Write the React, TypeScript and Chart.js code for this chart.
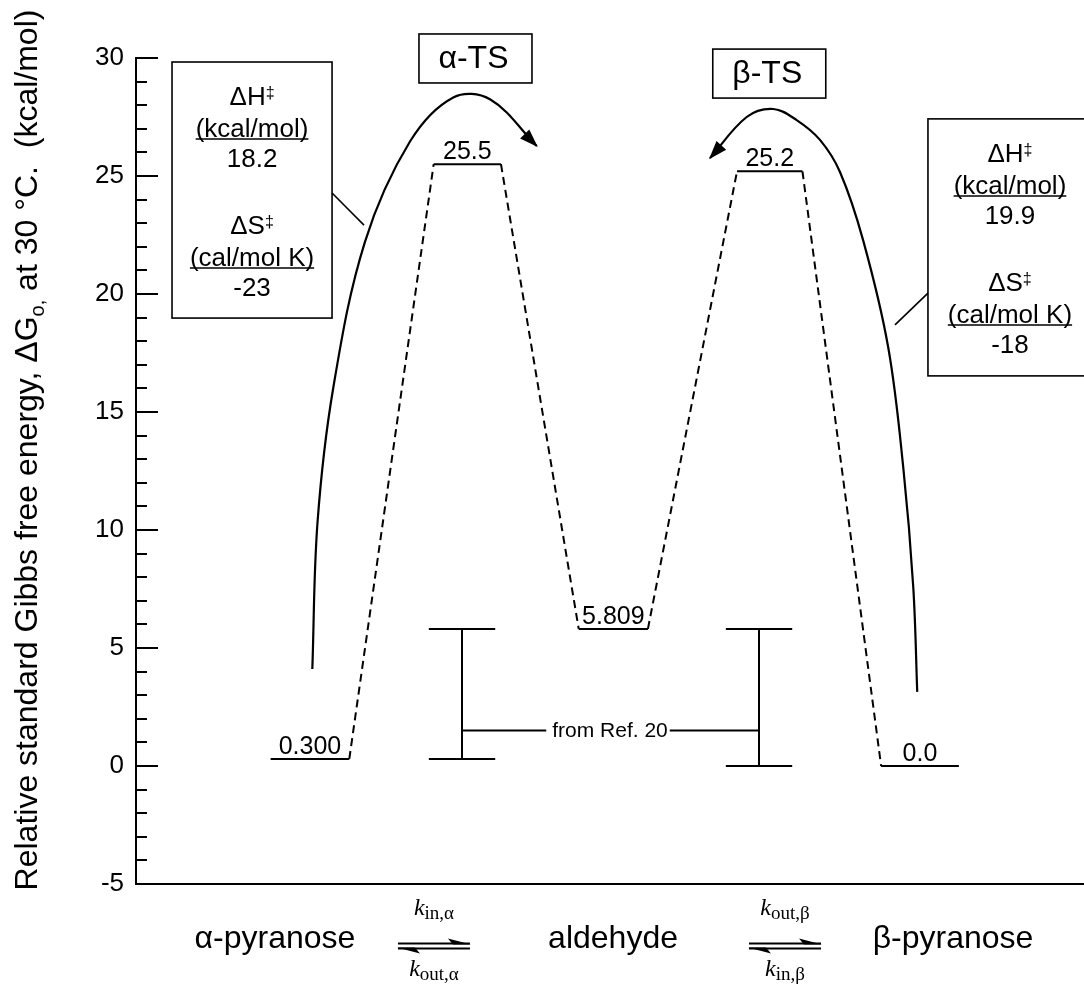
import React, { useEffect, useRef } from 'react';
import { Chart, registerables } from 'chart.js';

Chart.register(...registerables);

const FONT = '"Liberation Sans", Arial, Helvetica, sans-serif';
const SERIF = '"Liberation Serif", "Times New Roman", Times, serif';
const INK = '#000000';

// ---------------- data ----------------
// energy levels (kcal/mol) along an abstract reaction coordinate 0..100
const levelNames = ['α-pyranose', 'α-TS', 'aldehyde', 'β-TS', 'β-pyranose'];
const levelEnergies = [0.3, 25.5, 5.809, 25.2, 0.0];
const levelLabels = ['0.300', '25.5', '5.809', '25.2', '0.0'];
const levelStartX = [14.2, 31.4, 46.7, 63.4, 78.6];
const levelEndX = [22.5, 38.5, 54.0, 70.3, 86.8];

// curved arrows (start -> arrow tip)
const alphaArcX = [18.6, 19.15, 20.81, 24.16, 28.9, 33.47, 37.34, 42.27];
const alphaArcY = [4.11, 10.34, 16.03, 22.22, 26.46, 28.33, 28.25, 26.27];
const betaArcX = [82.41, 81.99, 80.94, 79.36, 76.72, 74.26, 72.15, 69.69, 67.22, 64.42, 60.55];
const betaArcY = [3.14, 7.58, 12.63, 17.71, 22.25, 25.17, 26.53, 27.37, 27.84, 27.5, 25.76];

// reference range bars ("from Ref. 20")
const refBarX = [34.39, 65.72];
const refBarLow = [0.3, 0.0];
const refBarHigh = [5.809, 5.809];
const refLinkY = 1.5;
const refLabel = 'from Ref. 20';
const refLabelX = 50.0;

// transition-state tags
const tsLabels = ['α-TS', 'β-TS'];
const tsLabelX = [35.81, 66.8];
const tsLabelY = [29.98, 29.34];

// activation parameter boxes
const enthalpyValues = ['18.2', '19.9'];
const entropyValues = ['-23', '-18'];
const infoBoxLeft = [3.8, 83.54];
const infoBoxRight = [20.68, 101.5];
const infoBoxTop = [29.83, 27.42];
const infoBoxBottom = [18.98, 16.53];
const infoTextX = [12.24, 92.19];
const leaderFromX = [20.68, 83.54];
const leaderFromY = [24.28, 20.04];
const leaderToX = [24.05, 80.06];
const leaderToY = [22.92, 18.69];

// reaction scheme under the axis
const schemeSpecies = ['α-pyranose', 'aldehyde', 'β-pyranose'];
const schemeSpeciesX = [14.66, 50.32, 86.18];
const schemeArrowX = [31.43, 68.46];
const schemeTopRate = ['in,α', 'out,β'];
const schemeBottomRate = ['out,α', 'in,β'];

const yTitleMain = 'Relative standard Gibbs free energy, ΔG';
const yTitleSub = 'o,';
const yTitleTail = ' at 30 °C.  (kcal/mol)';

// ---------------- helpers ----------------
type Run = { t: string; f: string; dy?: number };

function runsWidth(ctx: CanvasRenderingContext2D, runs: Run[]) {
  let w = 0;
  runs.forEach((r) => {
    ctx.font = r.f;
    w += ctx.measureText(r.t).width;
  });
  return w;
}

function drawRuns(ctx: CanvasRenderingContext2D, runs: Run[], cx: number, y: number) {
  const total = runsWidth(ctx, runs);
  let x = cx - total / 2;
  ctx.textAlign = 'left';
  runs.forEach((r) => {
    ctx.font = r.f;
    ctx.fillText(r.t, x, y + (r.dy || 0));
    x += ctx.measureText(r.t).width;
  });
  return total;
}

const CAP_HALF = 3.5;

function buildDatasets() {
  const ds: any[] = [];
  const base = {
    borderColor: INK,
    backgroundColor: INK,
    borderWidth: 2,
    pointRadius: 0,
    pointHoverRadius: 0,
    showLine: true,
    clip: false,
    tension: 0,
  };
  levelEnergies.forEach((e, i) =>
    ds.push({
      ...base,
      label: levelNames[i],
      data: [
        { x: levelStartX[i], y: e },
        { x: levelEndX[i], y: e },
      ],
    })
  );
  for (let i = 0; i < levelEnergies.length - 1; i++) {
    ds.push({
      ...base,
      label: levelNames[i] + ' - ' + levelNames[i + 1],
      borderDash: [8, 5],
      data: [
        { x: levelEndX[i], y: levelEnergies[i] },
        { x: levelStartX[i + 1], y: levelEnergies[i + 1] },
      ],
    });
  }
  const arc = { ...base, arrowHead: true, tension: 0.36, borderWidth: 2.2, capBezierPoints: false };
  ds.push({ ...arc, label: 'alpha arc', data: alphaArcX.map((x, i) => ({ x, y: alphaArcY[i] })) });
  ds.push({ ...arc, label: 'beta arc', data: betaArcX.map((x, i) => ({ x, y: betaArcY[i] })) });
  refBarX.forEach((x, i) => {
    ds.push({ ...base, label: 'ref bar', data: [{ x, y: refBarLow[i] }, { x, y: refBarHigh[i] }] });
    ds.push({
      ...base,
      label: 'ref cap hi',
      data: [
        { x: x - CAP_HALF, y: refBarHigh[i] },
        { x: x + CAP_HALF, y: refBarHigh[i] },
      ],
    });
    ds.push({
      ...base,
      label: 'ref cap lo',
      data: [
        { x: x - CAP_HALF, y: refBarLow[i] },
        { x: x + CAP_HALF, y: refBarLow[i] },
      ],
    });
  });
  return ds;
}

const diagramPlugin = {
  id: 'diagram',
  afterDraw(chart: any) {
    const { ctx, chartArea } = chart;
    const xs = chart.scales.x;
    const ys = chart.scales.y;
    const px = (v: number) => xs.getPixelForValue(v);
    const py = (v: number) => ys.getPixelForValue(v);
    ctx.save();
    ctx.strokeStyle = INK;
    ctx.fillStyle = INK;
    ctx.lineCap = 'butt';

    // bottom axis line
    ctx.lineWidth = 2;
    ctx.beginPath();
    ctx.moveTo(chartArea.left - 1, chartArea.bottom);
    ctx.lineTo(chartArea.right, chartArea.bottom);
    ctx.stroke();

    // inward y ticks (major every 5, minor every 1)
    ys.ticks.forEach((t: any) => {
      const y = Math.round(py(t.value));
      const len = t.value % 5 === 0 ? 22 : 11;
      ctx.beginPath();
      ctx.moveTo(chartArea.left, y);
      ctx.lineTo(chartArea.left + len, y);
      ctx.stroke();
    });

    // y title with subscript
    ctx.save();
    ctx.translate(37, 450);
    ctx.rotate(-Math.PI / 2);
    ctx.textBaseline = 'alphabetic';
    drawRuns(
      ctx,
      [
        { t: yTitleMain, f: `32px ${FONT}` },
        { t: yTitleSub, f: `20px ${FONT}`, dy: 7 },
        { t: yTitleTail, f: `32px ${FONT}` },
      ],
      0,
      0
    );
    ctx.restore();

    // level labels
    ctx.textBaseline = 'alphabetic';
    ctx.textAlign = 'center';
    ctx.font = `25px ${FONT}`;
    levelLabels.forEach((lab, i) => {
      const cx = (px(levelStartX[i]) + px(levelEndX[i])) / 2;
      ctx.fillText(lab, cx, py(levelEnergies[i]) - 5);
    });

    // arrow heads on the arcs (oriented along the curve's end tangent)
    chart.data.datasets.forEach((d: any, i: number) => {
      if (!d.arrowHead) return;
      const pts = chart.getDatasetMeta(i).data;
      const b = pts[pts.length - 1];
      const prev = pts[pts.length - 2];
      let ax = b.cp1x;
      let ay = b.cp1y;
      if (!isFinite(ax) || !isFinite(ay) || Math.hypot(b.x - ax, b.y - ay) < 1) {
        ax = prev.x;
        ay = prev.y;
      }
      const dx = b.x - ax;
      const dy = b.y - ay;
      const L = Math.hypot(dx, dy) || 1;
      const ux = dx / L;
      const uy = dy / L;
      const len = 17;
      const hw = 6.5;
      const bx = b.x - ux * len;
      const by = b.y - uy * len;
      ctx.beginPath();
      ctx.moveTo(b.x + ux * 1.5, b.y + uy * 1.5);
      ctx.lineTo(bx - uy * hw, by + ux * hw);
      ctx.lineTo(bx + uy * hw, by - ux * hw);
      ctx.closePath();
      ctx.fill();
    });

    // "from Ref. 20" link
    ctx.font = `21px ${FONT}`;
    ctx.textAlign = 'center';
    ctx.textBaseline = 'middle';
    const ly = py(refLinkY);
    const lcx = px(refLabelX);
    const tw = ctx.measureText(refLabel).width;
    ctx.fillText(refLabel, lcx, ly + 1);
    ctx.lineWidth = 2;
    ctx.beginPath();
    ctx.moveTo(px(refBarX[0]), ly);
    ctx.lineTo(lcx - tw / 2 - 6, ly);
    ctx.moveTo(lcx + tw / 2 + 2, ly);
    ctx.lineTo(px(refBarX[1]), ly);
    ctx.stroke();

    // TS tags
    ctx.font = `32px ${FONT}`;
    ctx.textAlign = 'center';
    ctx.textBaseline = 'middle';
    ctx.lineWidth = 1.6;
    tsLabels.forEach((lab, i) => {
      const cx = px(tsLabelX[i]);
      const cy = py(tsLabelY[i]);
      ctx.strokeRect(cx - 56.5, cy - 24.5, 113, 49);
      ctx.fillText(lab, cx - 2, cy + 1);
    });

    // activation parameter boxes
    const lineOffsets = [34, 66, 96, 163, 195, 225];
    enthalpyValues.forEach((hv, i) => {
      const l = px(infoBoxLeft[i]);
      const r = px(infoBoxRight[i]);
      const t = py(infoBoxTop[i]);
      const b = py(infoBoxBottom[i]);
      ctx.lineWidth = 1.6;
      ctx.strokeRect(l, t, r - l, b - t);
      ctx.beginPath();
      ctx.moveTo(px(leaderFromX[i]), py(leaderFromY[i]));
      ctx.lineTo(px(leaderToX[i]), py(leaderToY[i]));
      ctx.stroke();

      const cx = px(infoTextX[i]);
      const big = `26px ${FONT}`;
      const small = `16px ${FONT}`;
      ctx.textBaseline = 'alphabetic';
      const lines: Run[][] = [
        [{ t: 'ΔH', f: big }, { t: '‡', f: small, dy: -7 }],
        [{ t: '(kcal/mol)', f: big }],
        [{ t: hv, f: big }],
        [{ t: 'ΔS', f: big }, { t: '‡', f: small, dy: -7 }],
        [{ t: '(cal/mol K)', f: big }],
        [{ t: entropyValues[i], f: big }],
      ];
      lines.forEach((runs, k) => {
        const mid = t + lineOffsets[k];
        const w = drawRuns(ctx, runs, cx, mid + 9);
        if (k === 1 || k === 4) {
          ctx.lineWidth = 1.5;
          ctx.beginPath();
          ctx.moveTo(cx - w / 2, mid + 11);
          ctx.lineTo(cx + w / 2, mid + 11);
          ctx.stroke();
        }
      });
    });

    // reaction scheme
    const base = chartArea.bottom;
    ctx.textBaseline = 'alphabetic';
    ctx.textAlign = 'center';
    ctx.font = `32px ${FONT}`;
    schemeSpecies.forEach((s, i) => ctx.fillText(s, px(schemeSpeciesX[i]), base + 64));
    schemeArrowX.forEach((ax, i) => {
      const cx = px(ax);
      const x0 = cx - 36;
      const x1 = cx + 36;
      const yTop = base + 59.5;
      const yBot = base + 64.5;
      ctx.lineWidth = 2;
      ctx.beginPath();
      ctx.moveTo(x0, yTop);
      ctx.lineTo(x1, yTop);
      ctx.moveTo(x0, yBot);
      ctx.lineTo(x1, yBot);
      ctx.stroke();
      ctx.beginPath();
      ctx.moveTo(x1 + 1, yTop + 1);
      ctx.lineTo(x1 - 22, yTop - 5);
      ctx.lineTo(x1 - 17, yTop + 1);
      ctx.closePath();
      ctx.fill();
      ctx.beginPath();
      ctx.moveTo(x0 - 1, yBot - 1);
      ctx.lineTo(x0 + 22, yBot + 5);
      ctx.lineTo(x0 + 17, yBot - 1);
      ctx.closePath();
      ctx.fill();

      const kFont = `italic 24px ${SERIF}`;
      const subFont = `19px ${SERIF}`;
      drawRuns(ctx, [{ t: 'k', f: kFont }, { t: schemeTopRate[i], f: subFont, dy: 4 }], cx, base + 31);
      drawRuns(ctx, [{ t: 'k', f: kFont }, { t: schemeBottomRate[i], f: subFont, dy: 4 }], cx, base + 92);
    });

    ctx.restore();
  },
};

export default function App() {
  const ref = useRef<HTMLCanvasElement | null>(null);
  useEffect(() => {
    document.body.style.margin = '0';
    const canvas = ref.current;
    if (!canvas) return;
    const chart = new Chart(canvas, {
      type: 'scatter',
      data: { datasets: buildDatasets() },
      options: {
        responsive: false,
        animation: false,
        devicePixelRatio: 1,
        events: [],
        layout: { padding: { top: 58, bottom: 102, left: 0, right: 0 } },
        plugins: { legend: { display: false }, tooltip: { enabled: false } },
        scales: {
          x: { type: 'linear', min: 0, max: 100, display: false },
          y: {
            type: 'linear',
            min: -5,
            max: 30,
            afterFit: (s: any) => {
              s.width = 136;
            },
            grid: { display: false, drawTicks: false },
            border: { display: true, color: INK, width: 2 },
            ticks: {
              stepSize: 1,
              autoSkip: false,
              padding: 12,
              color: INK,
              font: { family: FONT, size: 26 },
              callback: (v: any) => (Number(v) % 5 === 0 ? String(v) : ''),
            },
          },
        },
      } as any,
      plugins: [diagramPlugin],
    });
    return () => chart.destroy();
  }, []);
  return <canvas ref={ref} width={1084} height={986} style={{ display: 'block' }} />;
}
